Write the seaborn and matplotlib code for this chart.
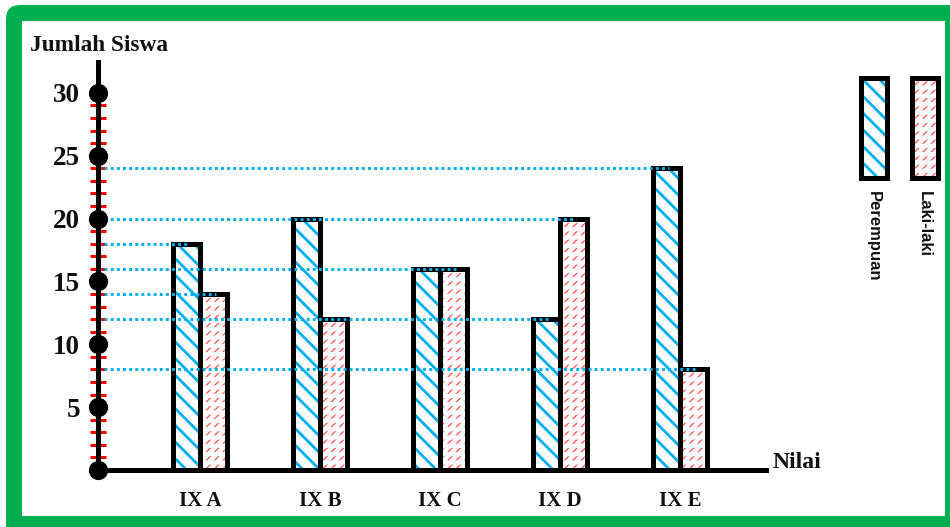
import matplotlib
matplotlib.use("Agg")
import matplotlib.pyplot as plt
from matplotlib.patches import Rectangle, FancyBboxPatch
from matplotlib.transforms import IdentityTransform
import pandas as pd
import seaborn as sns

# data
kelas = ["IX A", "IX B", "IX C", "IX D", "IX E"]
perempuan = [18, 20, 16, 12, 24]
laki_laki = [14, 12, 16, 20, 8]
jenis = ["Perempuan", "Laki-laki"]
y_major = [5, 10, 15, 20, 25, 30]
y_minor = [v for v in range(1, 30) if v % 5 != 0]

# colours
blue = "#00b0f0"
red = "#ff4d4d"
green = "#00b050"

df = pd.DataFrame({
    "kelas": kelas * 2,
    "jumlah": perempuan + laki_laki,
    "jenis": [jenis[0]] * len(kelas) + [jenis[1]] * len(kelas),
})

sns.set_style("white")
serif = "Liberation Serif"
sans = "Liberation Sans"

W, H = 950, 527
fig = plt.figure(figsize=(W / 100, H / 100), dpi=100)


def fx(px):
    return px / W


def fy(py):
    return 1 - py / H


def set_hlw(p, lw):
    if hasattr(p, "set_hatch_linewidth"):
        p.set_hatch_linewidth(lw)


# green frame (pixel coords)
pix = IdentityTransform()
fig.patches.append(FancyBboxPatch((6, H - 540), 960, 535,
                                  boxstyle="round,pad=0,rounding_size=14",
                                  transform=pix, facecolor=green,
                                  edgecolor="none", zorder=-3))
fig.patches.append(Rectangle((22, H - 516), 945 - 22, 516 - 21, transform=pix,
                             facecolor="white", edgecolor="none", zorder=-2))

ax = fig.add_axes([fx(98), fy(470), fx(766) - fx(98), fy(62) - fy(470)])
ax.set_facecolor("white")

sns.barplot(data=df, x="kelas", y="jumlah", hue="jenis",
            palette=["white", "white"], saturation=1, width=0.45,
            legend=False, ax=ax)

x0, x1 = -0.85, 4.717
ax.set_xlim(x0, x1)
ax.set_ylim(0, 32.46)

styles = [("\\\\", blue, 2.0), ("////", red, 0.9)]
for cont, (hatch, col, hlw) in zip(ax.containers, styles):
    for bar in cont:
        bar.set_hatch(hatch)
        bar.set_edgecolor(col)
        bar.set_linewidth(0)
        set_hlw(bar, hlw)
        if col == red:
            cover = Rectangle(bar.get_xy(), bar.get_width(), bar.get_height(),
                              facecolor="none", edgecolor="white", lw=0,
                              hatch="--", zorder=3)
            set_hlw(cover, 3.0)
            ax.add_patch(cover)
        ax.add_patch(Rectangle(bar.get_xy(), bar.get_width(), bar.get_height(),
                               fill=False, edgecolor="black", lw=3.6,
                               joinstyle="miter", clip_on=False, zorder=4))

# dotted guide lines
all_bars = [b for c in ax.containers for b in c]
for v in sorted(set(perempuan + laki_laki)):
    far = max(b.get_x() + 0.6 * b.get_width() for b in all_bars if b.get_height() == v)
    ax.plot([x0, far], [v, v], color=blue, lw=2.1, ls=(0, (1, 1.1)),
            zorder=5, clip_on=False)

# axes
for s in ["top", "right"]:
    ax.spines[s].set_visible(False)
for s in ["left", "bottom"]:
    ax.spines[s].set_linewidth(3.6)
    ax.spines[s].set_color("black")
    ax.spines[s].set_zorder(6)

ax.set_yticks(y_major)
ax.set_yticks(y_minor, minor=True)
ax.tick_params(axis="y", which="major", left=True, length=0, pad=13, labelsize=19.5)
ax.tick_params(axis="y", which="minor", left=True, length=11, width=2.2,
               color="red", direction="inout")
ax.tick_params(axis="x", length=0, pad=15, labelsize=15)
for lab in ax.get_yticklabels() + ax.get_xticklabels():
    lab.set_fontfamily(serif)
    lab.set_fontweight("bold")
    lab.set_color("#111111")
ax.set_xlabel("")
ax.set_ylabel("")

ax.scatter([x0] * (len(y_major) + 1), [0] + y_major, s=165, color="black",
           clip_on=False, zorder=7)

fig.text(fx(30), fy(45), "Jumlah Siswa", ha="left", va="center", fontsize=16.8,
         fontweight="bold", family=serif, color="#111111")
fig.text(fx(773), fy(463), "Nilai", ha="left", va="center", fontsize=17,
         fontweight="bold", family=serif, color="#111111")

# legend
leg_x = [861, 912]
for lx, (hatch, col, hlw), name in zip(leg_x, styles, jenis):
    r = Rectangle((fx(lx), fy(178)), fx(26), fy(78) - fy(178),
                  transform=fig.transFigure, facecolor="white",
                  edgecolor=col, lw=0, hatch=hatch, zorder=2)
    set_hlw(r, hlw)
    fig.patches.append(r)
    if col == red:
        cv = Rectangle((fx(lx), fy(178)), fx(26), fy(78) - fy(178),
                       transform=fig.transFigure, facecolor="none",
                       edgecolor="white", lw=0, hatch="--", zorder=3)
        set_hlw(cv, 3.0)
        fig.patches.append(cv)
    fig.patches.append(Rectangle((fx(lx), fy(178)), fx(26), fy(78) - fy(178),
                                 transform=fig.transFigure, fill=False,
                                 edgecolor="black", lw=3.6, zorder=4))
    fig.text(fx(lx + 12), fy(191), name, rotation=-90, ha="center", va="top",
             fontsize=12, fontweight="bold", family=sans, color="#111111")

fig.savefig("out.png", dpi=100)
